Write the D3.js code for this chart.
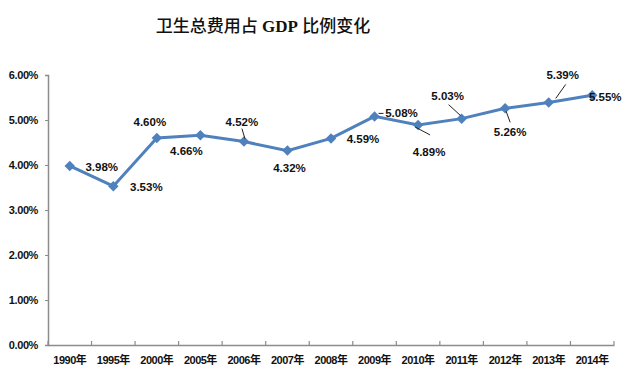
<!DOCTYPE html>
<html><head><meta charset="utf-8">
<script src="https://cdn.jsdelivr.net/npm/d3@7"></script>
<style>body{margin:0;background:#fff}svg{display:block}</style>
</head><body>
<script>
const categories = ["1990年","1995年","2000年","2005年","2006年","2007年","2008年","2009年","2010年","2011年","2012年","2013年","2014年"];
const values = [3.98,3.53,4.60,4.66,4.52,4.32,4.59,5.08,4.89,5.03,5.26,5.39,5.55];
const yTicks = [0,1,2,3,4,5,6];
const title = "卫生总费用占 GDP 比例变化";

// label placement (offset of label centre from point) and optional leader lines
const labelOffsets = [[32,1],[33,1],[-7,-16],[-14,16],[-2,-20],[2,17],[32,1],[27,-3],[11,27],[-14,-23],[5,24],[14,-27],[13,2]];
const leaders = [null,null,null,null,[[-2,-13],[1,-3]],null,null,[[4,-3],[9,-3]],[[-3,2],[12,10]],[[-13,-14],[-1,-3]],[[1,3],[5,14]],[[7,-4],[17,-18]],null];

const W=629,H=386;
const svg=d3.select("body").append("svg").attr("width",W).attr("height",H);
const x=d3.scaleBand().domain(categories).range([48,614]);
const y=d3.scaleLinear().domain([0,6]).range([345,75]);

svg.append("text").attr("x",263).attr("y",32).attr("text-anchor","middle")
  .attr("font-family","'Liberation Serif','Noto Sans CJK SC',serif").attr("font-size",17).attr("fill","#111")
  .selectAll("tspan").data([["卫生总费用占 ",500],["GDP",700],[" 比例变化",500]]).join("tspan")
  .attr("font-weight",d=>d[1]).text(d=>d[0]);

const ya=svg.append("g").attr("transform","translate(48,0)")
  .call(d3.axisLeft(y).tickValues(yTicks).tickSize(3).tickFormat(d=>d.toFixed(2)+"%"));
ya.select(".domain").attr("stroke","#8c8c8c").attr("stroke-width",1.5);
ya.selectAll(".tick line").attr("stroke","#8c8c8c");
ya.selectAll("text").attr("x",-10).attr("font-family","'Liberation Sans',Arial,sans-serif").attr("font-size",11).attr("font-weight","bold").attr("fill","#111").attr("letter-spacing","-0.4");

const xa=svg.append("g").attr("transform","translate(0,345)")
  .call(d3.axisBottom(x).tickSize(0).tickSizeOuter(0));
xa.select(".domain").attr("stroke","#8c8c8c").attr("stroke-width",1.5);
xa.selectAll("text").attr("y",11).attr("font-family","'Liberation Sans','Noto Sans CJK SC',sans-serif").attr("font-size",11).attr("font-weight","bold").attr("fill","#111").attr("letter-spacing","-0.5");
const bounds=categories.map(c=>x(c)).concat([x.range()[1]]);
svg.append("g").selectAll("line").data(bounds).join("line")
  .attr("x1",d=>d).attr("x2",d=>d).attr("y1",345).attr("y2",341).attr("stroke","#8c8c8c").attr("stroke-width",1.2);

const cx=(d,i)=>x(categories[i])+x.bandwidth()/2;
const line=d3.line().x((d,i)=>cx(d,i)).y(d=>y(d));
svg.append("path").datum(values).attr("d",line).attr("fill","none").attr("stroke","#4f81bd").attr("stroke-width",3);
svg.append("g").selectAll("path").data(values).join("path")
  .attr("transform",(d,i)=>`translate(${cx(d,i)},${y(d)})`)
  .attr("d",d3.symbol().type(d3.symbolDiamond2).size(70)).attr("fill","#4f81bd");

svg.append("g").selectAll("line").data(values.map((v,i)=>[v,i]).filter(d=>leaders[d[1]])).join("line")
  .attr("x1",d=>cx(d[0],d[1])+leaders[d[1]][0][0]).attr("y1",d=>y(d[0])+leaders[d[1]][0][1])
  .attr("x2",d=>cx(d[0],d[1])+leaders[d[1]][1][0]).attr("y2",d=>y(d[0])+leaders[d[1]][1][1])
  .attr("stroke","#222").attr("stroke-width",1);

svg.append("g").selectAll("text").data(values).join("text")
  .attr("x",(d,i)=>cx(d,i)+labelOffsets[i][0]).attr("y",(d,i)=>y(d)+labelOffsets[i][1])
  .attr("dy","0.35em").attr("text-anchor","middle")
  .attr("font-family","'Liberation Sans',Arial,sans-serif").attr("font-size",11.5).attr("font-weight","bold").attr("fill","#111")
  .text(d=>d.toFixed(2)+"%");
</script>
</body></html>
